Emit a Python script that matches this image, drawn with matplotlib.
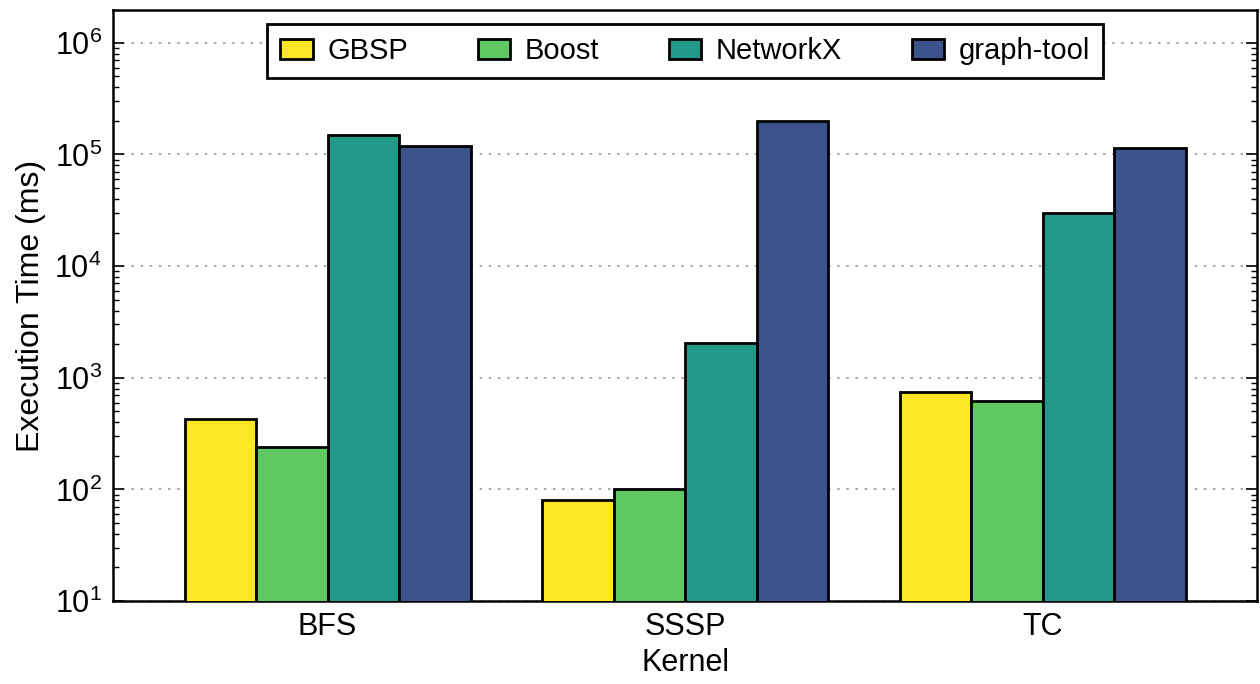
import numpy as np
import matplotlib.pyplot as plt
from matplotlib.ticker import LogLocator, NullFormatter

plt.rcParams['font.family'] = ['Liberation Sans', 'DejaVu Sans']
plt.rcParams['mathtext.fontset'] = 'custom'
plt.rcParams['mathtext.rm'] = 'Liberation Sans'
plt.rcParams['mathtext.it'] = 'Liberation Sans'

kernels = ['BFS', 'SSSP', 'TC']
series = ['GBSP', 'Boost', 'NetworkX', 'graph-tool']
gbsp = [430, 81, 750]
boost = [242, 100, 624]
networkx = [151000, 2050, 29700]
graph_tool = [120000, 201000, 115500]
colors = ['#fde725', '#5ec962', '#21998a', '#3b528b']

values = [gbsp, boost, networkx, graph_tool]

fig = plt.figure(figsize=(12.6, 6.84), dpi=100)
ax = fig.add_axes([0.0897, 0.1213, 0.9083, 0.8641])

x = np.arange(len(kernels))
w = 0.2
for i, (name, vals) in enumerate(zip(series, values)):
    ax.bar(x + (i - 1.5) * w, vals, w, bottom=0, color=colors[i],
           edgecolor='black', linewidth=2, label=name, zorder=3)

ax.set_yscale('log')
ax.set_ylim(10, 1.97e6)
ax.set_xlim(-0.6, 2.6)
ax.set_xticks(x)
ax.set_xticklabels(kernels, fontsize=22)
ax.tick_params(axis='x', length=0, pad=8)
ax.yaxis.set_major_locator(LogLocator(base=10, numticks=10))
ax.yaxis.set_minor_locator(LogLocator(base=10, subs=np.arange(2, 10), numticks=10))
ax.yaxis.set_minor_formatter(NullFormatter())
ax.tick_params(axis='y', which='major', direction='in', length=8, width=1.2,
               right=True, labelsize=22, pad=8)
ax.tick_params(axis='y', which='minor', direction='in', length=4, width=1,
               right=True)
ax.grid(axis='y', which='major', linestyle=(0, (1.5, 4)), color='#999999',
        linewidth=1.2, zorder=0)
for s in ax.spines.values():
    s.set_linewidth(1.8)

ax.set_xlabel('Kernel', fontsize=22, labelpad=4)
ax.set_ylabel('Execution Time (ms)', fontsize=23, labelpad=6)

leg = ax.legend(loc='upper center', ncol=4, fontsize=21, frameon=True,
                fancybox=False, edgecolor='black', borderpad=0.45,
                borderaxespad=0, handlelength=1.1, handleheight=0.7,
                handletextpad=0.5, columnspacing=2.4,
                bbox_to_anchor=(0.5, 0.976))
leg.get_frame().set_linewidth(2)
leg.get_frame().set_alpha(1)

fig.savefig('out.png', dpi=100)
